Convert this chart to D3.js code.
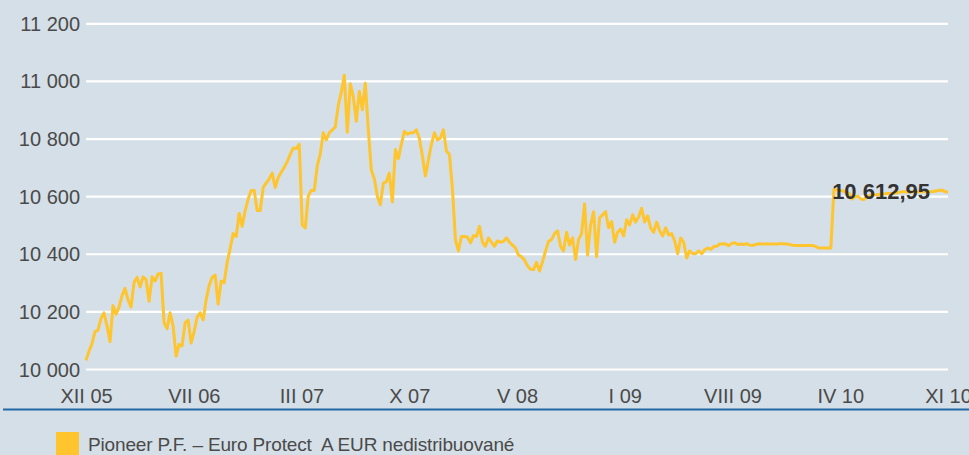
<!DOCTYPE html>
<html>
<head>
<meta charset="utf-8">
<script src="https://cdn.jsdelivr.net/npm/d3@7/dist/d3.min.js"></script>
<style>
  html, body { margin: 0; padding: 0; background: #d5dfe7; }
  svg { display: block; }
  text { font-family: "Liberation Sans", Arial, sans-serif; }
</style>
</head>
<body>
<svg id="chart" width="969" height="455"></svg>
<script>
// ---- data ----
const seriesName = "Pioneer P.F. – Euro Protect\u00a0 A EUR nedistribuované";
const xTickLabels = ["XII 05", "VII 06", "III 07", "X 07", "V 08", "I 09", "VIII 09", "IV 10", "XI 10"];
const yTickValues = [10000, 10200, 10400, 10600, 10800, 11000, 11200];
const values = [
  10030, 10062, 10088, 10130, 10135, 10175, 10195, 10150, 10095, 10220,
  10190, 10215, 10255, 10280, 10240, 10215, 10300, 10318, 10285, 10320,
  10310, 10235, 10320, 10305, 10330, 10332, 10160, 10140, 10195, 10150,
  10045, 10085, 10080, 10160, 10170, 10090, 10130, 10180, 10195, 10170,
  10240, 10290, 10318, 10326, 10225, 10305, 10300, 10370, 10418,
  10470, 10460, 10540, 10495, 10550, 10590, 10620, 10620, 10550, 10550,
  10630, 10645, 10660, 10680, 10630, 10665, 10683, 10700, 10720, 10745,
  10767, 10765, 10780, 10500, 10490, 10600, 10620, 10620, 10705, 10746,
  10820, 10795, 10820, 10830, 10840, 10915, 10960, 11020, 10822, 10990,
  10945, 10860, 10963, 10900, 10992, 10830, 10690, 10660,
  10600, 10570, 10645, 10650, 10680, 10580, 10762, 10730, 10780, 10825,
  10815, 10820, 10820, 10830, 10800, 10740, 10670, 10725, 10780, 10820,
  10795, 10802, 10830, 10757, 10745, 10625, 10449, 10410, 10460, 10460,
  10458, 10438, 10463, 10460, 10495, 10440, 10426, 10455, 10440, 10426,
  10445, 10440, 10443, 10455, 10440, 10430, 10420, 10395,
  10390, 10378, 10358, 10346, 10345, 10370, 10340, 10372, 10409, 10443,
  10449, 10470, 10480, 10426, 10410, 10475, 10430, 10455, 10380, 10450,
  10470, 10573, 10395, 10500, 10546, 10390, 10525, 10535, 10546, 10490,
  10512, 10440, 10475, 10486, 10462, 10518, 10500, 10535, 10510, 10528,
  10558, 10510, 10532, 10490, 10474, 10510, 10480, 10462,
  10490, 10465, 10470, 10445, 10400, 10455, 10440, 10385, 10410, 10400,
  10400, 10410, 10400, 10414, 10420, 10415, 10425, 10426, 10434, 10435,
  10434, 10428, 10436, 10438, 10432, 10434, 10432, 10435, 10430, 10429,
  10432, 10435,
  10434, 10434, 10435, 10434, 10434, 10434, 10435, 10435, 10434, 10433,
  10430, 10429, 10429, 10429, 10429, 10429, 10429, 10429, 10425, 10420,
  10420, 10420, 10420, 10420, 10622, 10622, 10620, 10618, 10615, 10610,
  10590, 10598, 10600, 10590, 10588, 10598, 10603, 10604, 10605, 10606,
  10607, 10608, 10609, 10609, 10610, 10612, 10614, 10615, 10615, 10614,
  10615, 10616, 10615, 10615, 10616, 10616, 10615, 10616, 10618, 10620,
  10621, 10616, 10612.95
];

// ---- chart ----
const svg = d3.select("#chart");
const W = 969, H = 455;
const plot = { left: 86, right: 948, top: 23.3, bottom: 369 };

const loc = d3.formatLocale({ decimal: ",", thousands: " ", grouping: [3], currency: ["", ""] });
const fmtTick = loc.format(",d");
const fmtLast = loc.format(",.2f");

const x = d3.scaleLinear().domain([0, values.length - 1]).range([plot.left, plot.right]);
const y = d3.scaleLinear().domain([10000, 11200]).range([plot.bottom, plot.top]);
const xTicks = d3.scalePoint().domain(xTickLabels).range([plot.left, plot.right]);

svg.append("rect").attr("width", W).attr("height", H).attr("fill", "#d5dfe7");

// grid + y labels
const yAxis = d3.axisLeft(y).tickValues(yTickValues).tickSize(0).tickFormat(fmtTick);
const gy = svg.append("g").attr("transform", `translate(${plot.left},0)`).call(yAxis);
gy.select(".domain").remove();
gy.selectAll(".tick line").attr("x2", plot.right - plot.left).attr("stroke", "#ffffff").attr("stroke-width", 2.2);
gy.selectAll(".tick text").attr("x", -6).attr("dy", "0.35em")
  .attr("font-size", 20).attr("fill", "#4a4a4a")
  .style("font-family", '"Liberation Sans", Arial, sans-serif');

// x labels
const xAxis = d3.axisBottom(xTicks).tickSize(0);
const gx = svg.append("g").attr("transform", `translate(0,${plot.bottom})`).call(xAxis);
gx.select(".domain").remove();
gx.selectAll(".tick text").attr("y", 34).attr("dy", 0)
  .attr("font-size", 20).attr("fill", "#4a4a4a")
  .style("font-family", '"Liberation Sans", Arial, sans-serif');

// line
const line = d3.line().x((d, i) => x(i)).y(d => y(d));
svg.append("path").datum(values)
  .attr("d", line)
  .attr("fill", "none")
  .attr("stroke", "#fec52e")
  .attr("stroke-width", 3)
  .attr("stroke-linejoin", "round");

// last value label
const lastI = values.length - 1;
svg.append("text")
  .attr("x", x(lastI) - 18).attr("y", y(values[lastI]) + 7)
  .attr("text-anchor", "end")
  .attr("font-size", 22).attr("font-weight", "bold").attr("fill", "#333333")
  .text(fmtLast(values[lastI]));

// separator
svg.append("line").attr("x1", 3).attr("x2", W).attr("y1", 409.5).attr("y2", 409.5)
  .attr("stroke", "#2269a6").attr("stroke-width", 2);

// legend
svg.append("rect").attr("x", 56).attr("y", 432).attr("width", 23).attr("height", 25).attr("fill", "#fec52e");
svg.append("text").attr("x", 88).attr("y", 451)
  .attr("font-size", 19).attr("letter-spacing", -0.15).attr("fill", "#4a4a4a")
  .text(seriesName);
</script>
</body>
</html>
